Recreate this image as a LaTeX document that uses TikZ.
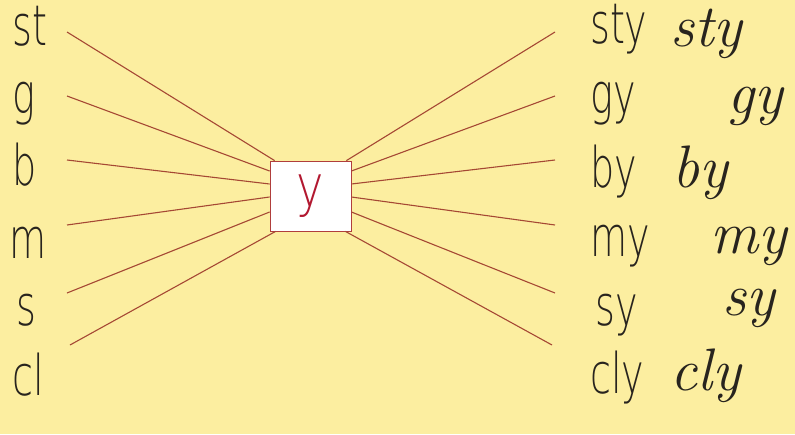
\documentclass[tikz,border=0pt]{standalone}
\usepackage{fontspec}
\newfontfamily\pop{DejaVu Sans ExtraLight}[FakeStretch=0.68]
\newfontfamily\popy{DejaVu Sans ExtraLight}[FakeStretch=0.8]
\usetikzlibrary{calc}
\definecolor{bg}{RGB}{252,238,160}
\definecolor{ln}{RGB}{165,72,52}
\definecolor{bx}{RGB}{176,62,60}
\definecolor{yred}{RGB}{178,24,48}
\definecolor{ink}{RGB}{40,36,30}
\begin{document}
\begin{tikzpicture}[x=1pt,y=-1pt,
  lab/.style={font=\pop\fontsize{56}{56}\selectfont, anchor=base west, inner sep=0, text=ink},
  cur/.style={font=\itshape\fontsize{60}{60}\selectfont, anchor=base west, inner sep=0, text=ink},
  link/.style={draw=ln, line width=1.1pt}]
\fill[bg] (0,0) rectangle (795,434);
\useasboundingbox (0,0) rectangle (795,434);
% centre box
\node[draw=bx, fill=white, line width=0.8pt, minimum width=81pt, minimum height=70pt, inner sep=0] (box) at (310.5,196) {};
\node[font=\popy\fontsize{58}{58}\selectfont, text=yred, anchor=base, inner sep=0] (yy) at (310.5,206) {y};
% left labels
\node[lab] (lst) at (12,45) {st};
\node[lab] (lg) at (12,113) {g};
\node[lab] (lb) at (12,185) {b};
\node[lab] (lm) at (9,258) {m};
\node[lab] (ls) at (16,325) {s};
\node[lab] (lcl) at (12,395) {cl};
% right print labels
\node[lab] (rsty) at (590,43) {sty};
\node[lab] (rgy) at (590,113) {gy};
\node[lab] (rby) at (590,187) {by};
\node[lab] (rmy) at (590,256) {my};
\node[lab] (rsy) at (595,325) {sy};
\node[lab] (rcly) at (590,393) {cly};
% cursive labels
\node[cur] (csty) at (670,46) {sty};
\node[cur] (cgy) at (727,113) {gy};
\node[cur] (cby) at (672,187) {by};
\node[cur] (cmy) at (710,253) {my};
\node[cur] (csy) at (722,315) {sy};
\node[cur] (ccly) at (670,390) {cly};
% free ends
\coordinate (L1) at (67,32);
\coordinate (L2) at (67,96);
\coordinate (L3) at (67,160);
\coordinate (L4) at (67,225);
\coordinate (L5) at (67,293);
\coordinate (L6) at (70,345);
\coordinate (R1) at (555,32);
\coordinate (R2) at (555,96);
\coordinate (R3) at (555,160);
\coordinate (R4) at (555,225);
\coordinate (R5) at (555,293);
\coordinate (R6) at (552,345);
% connectors
\draw[link] (L1) -- ($(box.north west)+(5,0)$);
\draw[link] (L2) -- ($(box.west)+(0,-25)$);
\draw[link] (L3) -- ($(box.west)+(0,-12)$);
\draw[link] (L4) -- ($(box.west)+(0,1)$);
\draw[link] (L5) -- ($(box.west)+(0,16)$);
\draw[link] (L6) -- ($(box.south west)+(6,0)$);
\draw[link] (R1) -- ($(box.north east)+(-5,0)$);
\draw[link] (R2) -- ($(box.east)+(0,-25)$);
\draw[link] (R3) -- ($(box.east)+(0,-12)$);
\draw[link] (R4) -- ($(box.east)+(0,1)$);
\draw[link] (R5) -- ($(box.east)+(0,16)$);
\draw[link] (R6) -- ($(box.south east)+(-6,0)$);
\end{tikzpicture}
\end{document}
